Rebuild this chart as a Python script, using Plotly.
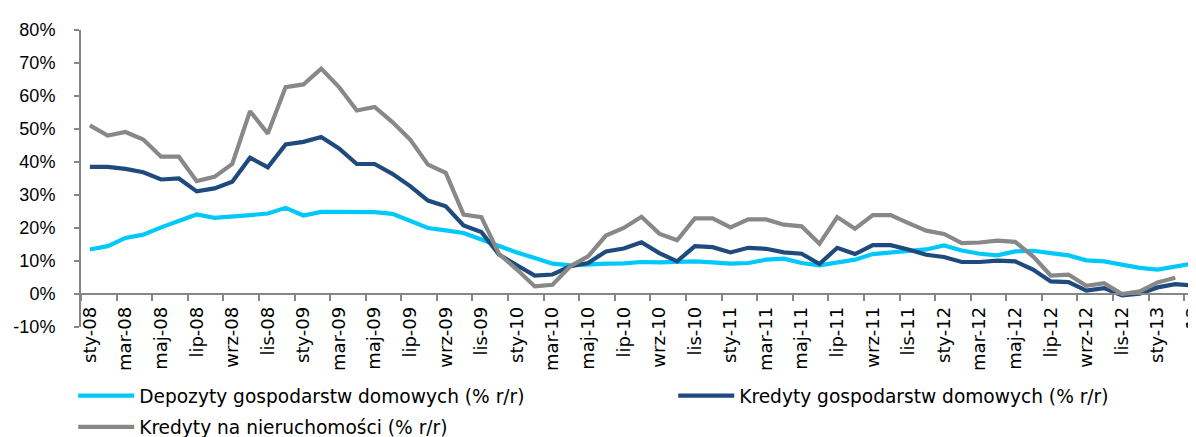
import plotly.graph_objects as go

categories = [
    "sty-08","lut-08","mar-08","kwi-08","maj-08","cze-08","lip-08","sie-08","wrz-08","paź-08","lis-08","gru-08",
    "sty-09","lut-09","mar-09","kwi-09","maj-09","cze-09","lip-09","sie-09","wrz-09","paź-09","lis-09","gru-09",
    "sty-10","lut-10","mar-10","kwi-10","maj-10","cze-10","lip-10","sie-10","wrz-10","paź-10","lis-10","gru-10",
    "sty-11","lut-11","mar-11","kwi-11","maj-11","cze-11","lip-11","sie-11","wrz-11","paź-11","lis-11","gru-11",
    "sty-12","lut-12","mar-12","kwi-12","maj-12","cze-12","lip-12","sie-12","wrz-12","paź-12","lis-12","gru-12",
    "sty-13","lut-13","mar-13",
]

deposits = [13.5,14.5,17.0,18.0,20.2,22.0,24.1,23.1,23.4,23.9,24.4,26.1,23.8,24.9,24.9,24.9,24.8,24.3,
            22.2,20.0,19.3,18.5,16.5,14.5,12.6,10.9,9.2,8.7,9.1,9.2,9.3,9.7,9.6,9.7,9.9,9.6,9.2,9.4,10.4,10.7,9.4,
            8.7,9.6,10.4,12.1,12.6,13.2,13.5,14.7,13.2,12.2,11.7,12.9,13.1,12.4,11.7,10.2,9.9,8.9,7.9,7.4,8.4,9.2]

household_loans = [38.5,38.5,37.9,36.9,34.7,35.0,31.1,32.0,34.0,41.3,38.4,45.3,46.1,47.6,44.1,39.4,39.4,36.4,
                   32.7,28.3,26.6,20.8,18.8,11.9,8.7,5.6,5.9,8.4,9.4,12.9,13.8,15.7,12.4,9.9,14.5,14.2,12.6,14.0,13.7,12.6,12.2,
                   9.1,14.0,12.1,14.8,14.8,13.5,11.9,11.2,9.7,9.7,10.1,9.9,7.4,3.8,3.6,1.0,1.8,-0.4,0.1,2.0,3.0,2.6]

mortgage_loans = [51.1,48.0,49.1,46.8,41.6,41.6,34.2,35.5,39.4,55.4,48.6,62.7,63.5,68.3,62.7,55.6,56.7,52.1,
                  46.8,39.2,36.7,24.1,23.3,12.1,7.4,2.3,2.8,8.4,11.4,17.7,20.0,23.4,18.3,16.3,22.9,22.9,20.2,22.6,22.6,21.0,20.5,
                  15.2,23.3,19.8,23.9,23.9,21.5,19.2,18.2,15.4,15.6,16.2,15.8,11.4,5.6,5.9,2.5,3.3,0.0,0.8,3.5,4.9,None]

series_names = ["Depozyty gospodarstw domowych (% r/r)",
                "Kredyty gospodarstw domowych (% r/r)",
                "Kredyty na nieruchomości (% r/r)"]
series_colors = ["#00C8FA", "#1F4A7E", "#888888"]
series_legends = ["legend", "legend2", "legend"]
series_groups = ["g1", "g2", "g3"]

y_ticks = [-10, 0, 10, 20, 30, 40, 50, 60, 70, 80]
y_tick_labels = ["-10%", "0%", "10%", "20%", "30%", "40%", "50%", "60%", "70%", "80%"]

x_idx = list(range(len(categories)))
label_idx = x_idx[::2]
label_text = categories[::2]
boundary_ticks = [i - 0.5 for i in label_idx]

fig = go.Figure()
for name, vals, col, lg, grp in zip(series_names, [deposits, household_loans, mortgage_loans],
                                    series_colors, series_legends, series_groups):
    fig.add_trace(go.Scatter(x=x_idx, y=vals, mode="lines", name=name, legend=lg,
                             legendgroup=grp,
                             line=dict(color=col, width=4.2), connectgaps=False,
                             hovertext=categories))

axis_col = "#868686"
label_font = dict(family="DejaVu Sans", size=18, color="#000000")
legend_font = dict(family="DejaVu Sans", size=18.6, color="#000000")
legend_common = dict(orientation="v", xref="container", yref="container",
                     y=0.1555, xanchor="left", yanchor="top", font=legend_font,
                     itemwidth=56, bgcolor="rgba(0,0,0,0)", traceorder="grouped",
                     tracegroupgap=4)

fig.update_layout(
    width=1196, height=437,
    margin=dict(l=73, r=2, t=22, b=118, autoexpand=False),
    paper_bgcolor="white", plot_bgcolor="white",
    showlegend=True,
    legend=dict(x=0.0545, **legend_common),
    legend2=dict(x=0.5562, **legend_common),
    xaxis=dict(range=[-0.5, len(categories) - 0.5], anchor="free", position=10 / 90,
               showline=True, linecolor=axis_col, linewidth=2,
               ticks="outside", ticklen=6, tickwidth=2, tickcolor=axis_col,
               tickvals=boundary_ticks, showticklabels=False,
               showgrid=False, zeroline=False, automargin=False),
    xaxis2=dict(range=[-0.5, len(categories) - 0.5], overlaying="x", anchor="free",
                position=0.0837, side="bottom", showline=False, ticks="",
                tickvals=label_idx, ticktext=label_text, tickangle=-90,
                tickfont=label_font, showgrid=False, zeroline=False, automargin=False),
    yaxis=dict(range=[-10, 80], tickvals=y_ticks, ticktext=y_tick_labels,
               showline=True, linecolor=axis_col, linewidth=2,
               ticks="outside", ticklen=5, tickwidth=2, tickcolor=axis_col,
               tickfont=dict(family="Liberation Sans", size=18, color="#000000"),
               ticklabelstandoff=15, showgrid=False, zeroline=False, automargin=False),
)

# invisible trace to activate xaxis2
fig.add_trace(go.Scatter(x=[0], y=[None], xaxis="x2", showlegend=False, hoverinfo="skip"))

fig.write_html("out.html")
